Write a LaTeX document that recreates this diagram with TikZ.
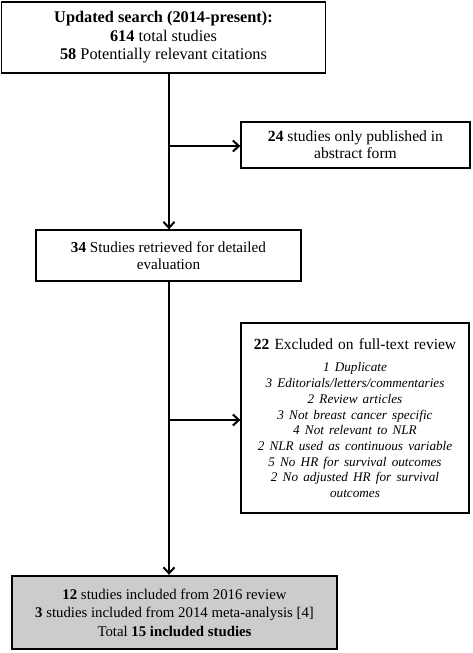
\documentclass[tikz,border=0pt]{standalone}
\usepackage{fontspec}
\setmainfont{Liberation Serif}
\usetikzlibrary{arrows.meta}
\begin{document}
\begin{tikzpicture}[x=1pt,y=-1pt,
  box/.style={draw=black,line width=1.3pt,rectangle,align=center,inner sep=2pt,
    font=\fontsize{15}{17.5}\selectfont},
  finalbox/.style={box,line width=2.4pt,fill=black!20},
  conn/.style={line width=2pt,-{Straight Barb[length=6pt,width=11pt,line width=2pt]}}]
\useasboundingbox (0,0) rectangle (472,653);
\node[box,minimum width=324pt,minimum height=71pt,font=\fontsize{16.3}{18.5}\selectfont] (search) at (163.5,37.5)
  {\textbf{Updated search (2014-present):}\\\textbf{614} total studies\\\textbf{58} Potentially relevant citations};
\node[box,minimum width=229pt,minimum height=46pt,font=\fontsize{15.6}{16.7}\selectfont] (abstract) at (355.5,145)
  {\textbf{24} studies only published in\\abstract form};
\node[box,minimum width=265pt,minimum height=51pt,font=\fontsize{15.2}{17}\selectfont] (retrieved) at (168.5,255.5)
  {\textbf{34} Studies retrieved for detailed\\evaluation};
\node[box,minimum width=228pt,minimum height=190pt,text width=222pt,font=\fontsize{15.5}{17}\selectfont] (excluded) at (355,418)
  {\textbf{22} Excluded on full-text review\par\vspace{7pt}
   \fontsize{13.2}{15.7}\selectfont\itshape
   1 Duplicate\\3 Editorials/letters/commentaries\\2 Review articles\\3 Not breast cancer specific\\
   4 Not relevant to NLR\\2 NLR used as continuous variable\\5 No HR for survival outcomes\\
   2 No adjusted HR for survival\\outcomes\par};
\node[finalbox,minimum width=325pt,minimum height=73pt,font=\fontsize{14.8}{18.5}\selectfont] (final) at (174.5,612.5)
  {\textbf{12} studies included from 2016 review\\\textbf{3} studies included from 2014 meta-analysis [4]\\Total \textbf{15 included studies}};
\coordinate (b1) at (169,146);
\coordinate (b2) at (169,420);
\draw[conn] (search.south -| b1) -- (retrieved.north -| b1);
\draw[conn] (b1) -- (abstract.west |- b1);
\draw[conn] (retrieved.south -| b2) -- (final.north -| b2);
\draw[conn] (b2) -- (excluded.west |- b2);
\end{tikzpicture}
\end{document}
